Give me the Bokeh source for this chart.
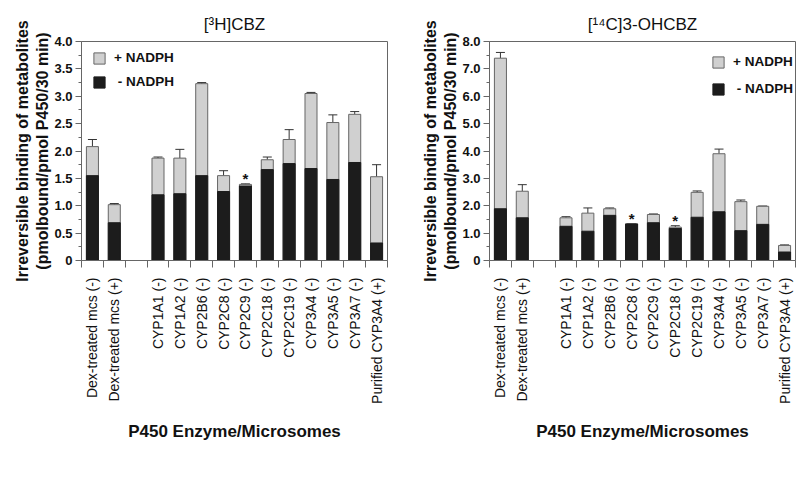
import math
from bokeh.plotting import figure
from bokeh.models import (ColumnDataSource, Range1d, FixedTicker, Whisker, TeeHead,
                          Legend, LegendItem, PrintfTickFormatter)
from bokeh.layouts import row
from bokeh.embed import file_html
from bokeh.resources import INLINE
from bokeh.core.properties import value

# ---------------- data ----------------
categories = ["Dex-treated mcs (-)", "Dex-treated mcs (+)", "",
              "CYP1A1 (-)", "CYP1A2 (-)", "CYP2B6 (-)", "CYP2C8 (-)", "CYP2C9 (-)",
              "CYP2C18 (-)", "CYP2C19 (-)", "CYP3A4 (-)", "CYP3A5 (-)", "CYP3A7 (-)",
              "Purified CYP3A4 (+)"]

# [3H]CBZ
cbz_plus = [2.08, 1.02, None, 1.87, 1.87, 3.23, 1.55, 1.39, 1.84, 2.21, 3.05, 2.52, 2.67, 1.53]
cbz_minus = [1.55, 0.69, None, 1.20, 1.22, 1.55, 1.26, 1.36, 1.66, 1.77, 1.68, 1.48, 1.79, 0.32]
cbz_err = [2.21, 1.04, None, 1.89, 2.03, 3.25, 1.64, 1.40, 1.89, 2.39, 3.07, 2.66, 2.72, 1.75]
cbz_star = [False, False, False, False, False, False, False, True, False, False, False, False, False, False]

# [14C]3-OHCBZ
oh_plus = [7.39, 2.53, None, 1.56, 1.73, 1.89, 1.34, 1.68, 1.22, 2.49, 3.90, 2.15, 1.98, 0.55]
oh_minus = [1.89, 1.56, None, 1.25, 1.07, 1.65, 1.33, 1.38, 1.17, 1.58, 1.78, 1.09, 1.32, 0.31]
oh_err = [7.60, 2.77, None, 1.60, 1.92, 1.92, 1.35, 1.70, 1.27, 2.54, 4.07, 2.21, 1.99, 0.57]
oh_star = [False, False, False, False, False, False, True, False, True, False, False, False, False, False]

cbz_yticks = [0.0, 0.5, 1.0, 1.5, 2.0, 2.5, 3.0, 3.5, 4.0]
cbz_yminor = [0.25, 0.75, 1.25, 1.75, 2.25, 2.75, 3.25, 3.75]
oh_yticks = [0.0, 1.0, 2.0, 3.0, 4.0, 5.0, 6.0, 7.0, 8.0]
oh_yminor = [0.5, 1.5, 2.5, 3.5, 4.5, 5.5, 6.5, 7.5]

titles = ["[\u00b3H]CBZ", "[\u00b9\u2074C]3-OHCBZ"]
y_label = "Irreversible binding of metabolites\n(pmolbound/pmol P450/30 min)"
x_label = "P450 Enzyme/Microsomes"
legend_labels = ["+ NADPH", "\u00a0- NADPH"]

FONT = "Liberation Sans"
GRAY = "#d0d0d0"
BLACK = "#1c1c1c"
EDGE = "#666666"

FRAME_W, FRAME_H = 306, 219


def make_panel(title, plus, minus, err, star, ymax, yticks, yminor, legend_xy,
               legend_spacing, border_left, border_right):
    idx = [i for i, c in enumerate(categories) if c != ""]
    src = ColumnDataSource(dict(
        x=idx,
        plus=[plus[i] for i in idx],
        minus=[minus[i] for i in idx],
        err=[err[i] for i in idx],
    ))
    sx = [i for i in idx if star[i]]
    star_src = ColumnDataSource(dict(x=sx, y=[err[i] for i in sx], t=["*"] * len(sx)))

    p = figure(frame_width=FRAME_W, frame_height=FRAME_H, output_backend="svg",
               toolbar_location=None, x_range=Range1d(-0.5, len(categories) - 0.5),
               y_range=Range1d(0, ymax), min_border_left=border_left,
               min_border_right=border_right, min_border_top=41, min_border_bottom=10)
    p.title.text = title
    p.title.align = "center"
    p.title.vertical_align = "top"
    p.title.text_font = FONT
    p.title.text_font_size = "17px"
    p.title.text_font_style = "normal"
    p.title.text_color = "#111111"
    p.title.standoff = 12

    p.grid.visible = False
    p.outline_line_color = EDGE
    p.outline_line_width = 1
    p.background_fill_color = "white"
    p.border_fill_color = "white"

    r_plus = p.vbar(x="x", top="plus", width=0.55, source=src, fill_color=GRAY,
                    line_color=EDGE, line_width=1)
    r_minus = p.vbar(x="x", top="minus", width=0.55, source=src, fill_color=BLACK,
                     line_color=BLACK, line_width=1)
    wh = Whisker(source=src, base="x", lower="plus", upper="err", dimension="height",
                 line_color="#333333", line_width=1, lower_head=None,
                 upper_head=TeeHead(size=9, line_color="#333333", line_width=1))
    p.add_layout(wh)
    p.text(x="x", y="y", text="t", source=star_src, text_align="center",
           text_baseline="middle", text_font=value(FONT), text_font_size="15px",
           text_font_style="bold", y_offset=-5, text_color="#111111")

    # x axis
    ax = p.xaxis[0]
    ax.ticker = FixedTicker(ticks=idx, minor_ticks=[i - 0.5 for i in range(len(categories) + 1)])
    ax.major_label_overrides = {i: categories[i] for i in idx}
    ax.major_label_orientation = math.pi / 2
    ax.major_label_text_font = FONT
    ax.major_label_text_font_size = "14px"
    ax.major_label_text_color = "#111111"
    ax.major_tick_line_color = None
    ax.major_tick_out = 0
    ax.major_tick_in = 0
    ax.minor_tick_out = 7
    ax.minor_tick_in = 0
    ax.minor_tick_line_color = EDGE
    ax.axis_line_color = EDGE
    ax.major_label_standoff = 10
    ax.axis_label = x_label
    ax.axis_label_text_font = FONT
    ax.axis_label_text_font_size = "17px"
    ax.axis_label_text_font_style = "bold"
    ax.axis_label_text_color = "#111111"
    ax.axis_label_standoff = 15

    # y axis
    ay = p.yaxis[0]
    ay.ticker = FixedTicker(ticks=yticks, minor_ticks=yminor)
    ay.formatter = PrintfTickFormatter(format="%.1f")
    ay.major_label_overrides = {0: "0"}
    ay.major_label_text_font = FONT
    ay.major_label_text_font_size = "13px"
    ay.major_label_text_font_style = "bold"
    ay.major_label_text_color = "#111111"
    ay.major_tick_out = 6
    ay.major_tick_in = 0
    ay.minor_tick_out = 3
    ay.minor_tick_in = 0
    ay.major_tick_line_color = EDGE
    ay.minor_tick_line_color = EDGE
    ay.axis_line_color = EDGE
    ay.major_label_standoff = 3
    ay.axis_label = y_label
    ay.axis_label_text_font = FONT
    ay.axis_label_text_font_size = "16px"
    ay.axis_label_text_font_style = "bold"
    ay.axis_label_text_color = "#111111"
    ay.axis_label_standoff = 0

    legend = Legend(items=[LegendItem(label=legend_labels[0], renderers=[r_plus]),
                           LegendItem(label=legend_labels[1], renderers=[r_minus])],
                    location=legend_xy, margin=0, padding=0,
                    spacing=legend_spacing,
                    glyph_width=14, glyph_height=14, label_height=14,
                    label_standoff=8, border_line_color=None,
                    background_fill_alpha=0,
                    label_text_font=FONT, label_text_font_size="13.5px",
                    label_text_font_style="bold", label_text_color="#111111")
    p.add_layout(legend)
    return p


p1 = make_panel(titles[0], cbz_plus, cbz_minus, cbz_err, cbz_star, 4.0,
                cbz_yticks, cbz_yminor, (11, 171), 9, 81, 28)
p2 = make_panel(titles[1], oh_plus, oh_minus, oh_err, oh_star, 8.0,
                oh_yticks, oh_yminor, (222, 164), 12, 74, 2)

layout = row(p1, p2)
open("out.html", "w").write(file_html(layout, INLINE))
